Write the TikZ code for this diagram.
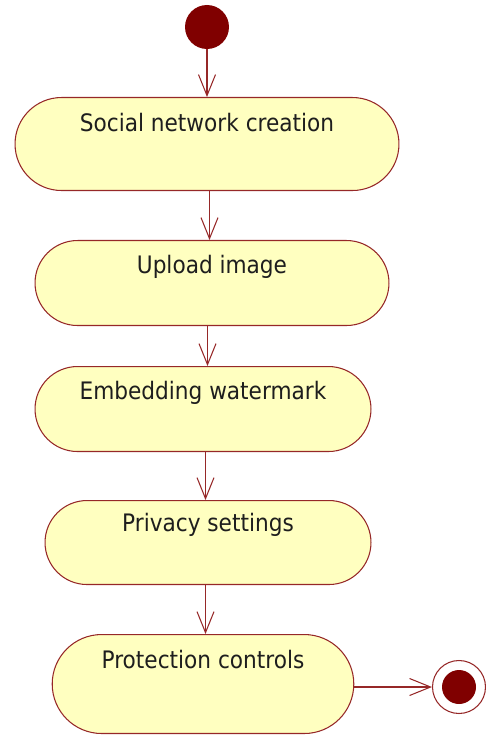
\documentclass[tikz,border=0pt]{standalone}
\usepackage{fontspec}
\setmainfont{DejaVu Sans Condensed}
\usepackage{xcolor}
\usepackage{tikz}
\usetikzlibrary{positioning, calc, shapes.misc, arrows.meta}
\definecolor{actfill}{RGB}{255, 255, 192}
\definecolor{actborder}{RGB}{150, 40, 40}
\definecolor{dotred}{RGB}{128, 0, 0}
\definecolor{acttext}{RGB}{30, 30, 30}
\tikzset{
    activity/.style={
        rounded rectangle, draw=actborder, fill=actfill, text=acttext,
        inner sep=0pt, anchor=north, line width=0.6pt,
        font=\fontsize{13.7}{16}\selectfont
    },
    startdot/.style={
        circle, fill=dotred, minimum size=0.88cm, inner sep=0pt
    },
    endring/.style={
        circle, draw=actborder, fill=white, line width=0.6pt,
        minimum size=1.06cm, inner sep=0pt
    },
    enddot/.style={
        circle, fill=dotred, minimum size=0.68cm, inner sep=0pt
    },
    flow/.style={
        -{Straight Barb[length=0.42cm, width=0.34cm]}, actborder, line width=0.6pt
    }
}

\begin{document}
\begin{tikzpicture}[x=0.02cm, y=-0.02cm]
        \useasboundingbox (0,0) rectangle (485,736);

        % --- 1. START / END ---
        \node[startdot] (start) at (207,27) {};

        % --- 2. ACTIVITIES ---
        \node[activity, minimum width=7.68cm, text height=0.68cm, text depth=1.18cm]
            (social) at (207,97) {Social network creation};
        \node[activity, minimum width=7.08cm, text height=0.66cm, text depth=1.04cm]
            (upload) at (212,240) {Upload image};
        \node[activity, minimum width=6.72cm, text height=0.66cm, text depth=1.04cm]
            (embed) at (203,366) {Embedding watermark};
        \node[activity, minimum width=6.52cm, text height=0.62cm, text depth=1.06cm]
            (privacy) at (208,500) {Privacy settings};
        \node[activity, minimum width=6cm, text height=0.68cm, text depth=1.3cm]
            (protect) at (203,634) {Protection controls};

        \node[endring] (stop) at (459,687) {};
        \node[enddot] (stopdot) at (stop.center) {};

        % --- 3. TRANSITIONS (straight down, halfway between the boxes) ---
        \coordinate (m1) at ($(social.south)!0.5!(upload.north)$);
        \coordinate (m2) at ($(upload.south)!0.5!(embed.north)$);
        \coordinate (m3) at ($(embed.south)!0.5!(privacy.north)$);
        \coordinate (m4) at ($(privacy.south)!0.5!(protect.north)$);

        \draw[flow] (start) -- (social.north);
        \draw[flow] (m1 |- social.south) -- (m1 |- upload.north);
        \draw[flow] (m2 |- upload.south) -- (m2 |- embed.north);
        \draw[flow] (m3 |- embed.south) -- (m3 |- privacy.north);
        \draw[flow] (m4 |- privacy.south) -- (m4 |- protect.north);
        \draw[flow] (protect.east |- stop.west) -- (stop.west);

    \end{tikzpicture}
\end{document}
